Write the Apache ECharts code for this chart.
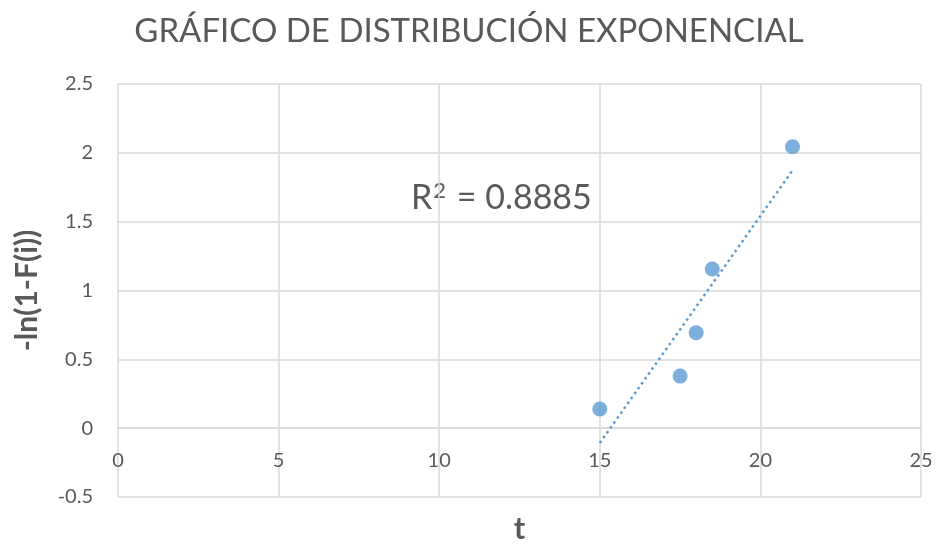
<!DOCTYPE html>
<html>
<head>
<meta charset="utf-8">
<script src="https://cdn.jsdelivr.net/npm/echarts@6/dist/echarts.min.js"></script>
<style>
  html, body { margin: 0; padding: 0; background: #fff; }
  #chart { width: 938px; height: 544px; }
</style>
</head>
<body>
<div id="chart"></div>
<script>
// Observed failure times and the linearised exponential CDF
const tValues = [15, 17.5, 18, 18.5, 21];
const lnValues = [0.1388, 0.3781, 0.6931, 1.1558, 2.0442];

const titleText = 'GRÁFICO DE DISTRIBUCIÓN EXPONENCIAL';
const xName = 't';
const yName = '-ln(1-F(i))';
const r2Value = '0.8885';

// Least-squares trend line over the observed range
function linearFit(xs, ys) {
  const n = xs.length;
  const mx = xs.reduce((a, b) => a + b, 0) / n;
  const my = ys.reduce((a, b) => a + b, 0) / n;
  let sxy = 0, sxx = 0;
  for (let i = 0; i < n; i++) {
    sxy += (xs[i] - mx) * (ys[i] - my);
    sxx += (xs[i] - mx) * (xs[i] - mx);
  }
  const slope = sxy / sxx;
  return { slope, intercept: my - slope * mx };
}
const fit = linearFit(tValues, lnValues);
const tMin = Math.min(...tValues);
const tMax = Math.max(...tValues);
const trendData = [tMin, tMax].map(t => [t, fit.intercept + fit.slope * t]);

const points = tValues.map((t, i) => [t, lnValues[i]]);

const gray = '#595959';
const gridGray = '#d9d9d9';
const blue = '#5B9BD5';

// Plot box and value ranges
const W = 938, H = 544;
const grid = { left: 118, right: 17, top: 84, bottom: 47 };
const yMin = -0.5, yMax = 2.5;
// Lift the horizontal axis so it crosses the vertical axis at zero
const plotH = H - grid.top - grid.bottom;
const zeroLift = plotH * (0 - yMin) / (yMax - yMin);

const chart = echarts.init(document.getElementById('chart'));
chart.setOption({
  animation: false,
  title: {
    text: titleText,
    left: 'center',
    top: 10,
    textStyle: { fontFamily: 'Lato', fontWeight: 'normal', fontSize: 33, color: gray }
  },
  grid: Object.assign({ containLabel: false, outerBoundsMode: 'none' }, grid),
  xAxis: {
    type: 'value',
    min: 0, max: 25, interval: 5,
    offset: -zeroLift,
    name: xName,
    nameLocation: 'middle',
    nameGap: 85,
    nameTextStyle: { fontFamily: 'Lato', fontWeight: 'bold', fontSize: 31, color: gray },
    axisLine: { onZero: false, lineStyle: { color: gridGray, width: 1.5 } },
    axisTick: { show: false },
    axisLabel: { fontFamily: 'Lato', fontSize: 20, color: gray, margin: 22 },
    splitLine: { show: true, lineStyle: { color: gridGray, width: 1.5 } }
  },
  yAxis: {
    type: 'value',
    min: yMin, max: yMax, interval: 0.5,
    name: yName,
    nameLocation: 'middle',
    nameGap: 76,
    nameTextStyle: { fontFamily: 'Lato', fontWeight: 'bold', fontSize: 30, color: gray },
    axisLine: { show: false, onZero: false },
    axisTick: { show: false },
    axisLabel: { fontFamily: 'Lato', fontSize: 20, color: gray, margin: 25 },
    splitLine: { show: true, lineStyle: { color: gridGray, width: 1.5 } }
  },
  series: [
    {
      type: 'line',
      data: trendData,
      symbol: 'none',
      lineStyle: { color: blue, width: 2.5, type: [2.5, 3.5], cap: 'butt' },
      z: 2
    },
    {
      type: 'scatter',
      data: points,
      symbol: 'circle',
      symbolSize: 15,
      itemStyle: { color: blue },
      z: 3
    }
  ],
  graphic: [
    {
      type: 'text',
      left: 411,
      top: 180,
      style: {
        text: '{r|R}{s|2}{r| = ' + r2Value + '}',
        rich: {
          r: { fontFamily: 'Lato', fontSize: 34, fill: gray, color: gray },
          s: { fontFamily: 'Lato', fontSize: 22, fill: gray, color: gray, padding: [0, 2, 14, 1] }
        }
      }
    }
  ]
});
</script>
</body>
</html>
